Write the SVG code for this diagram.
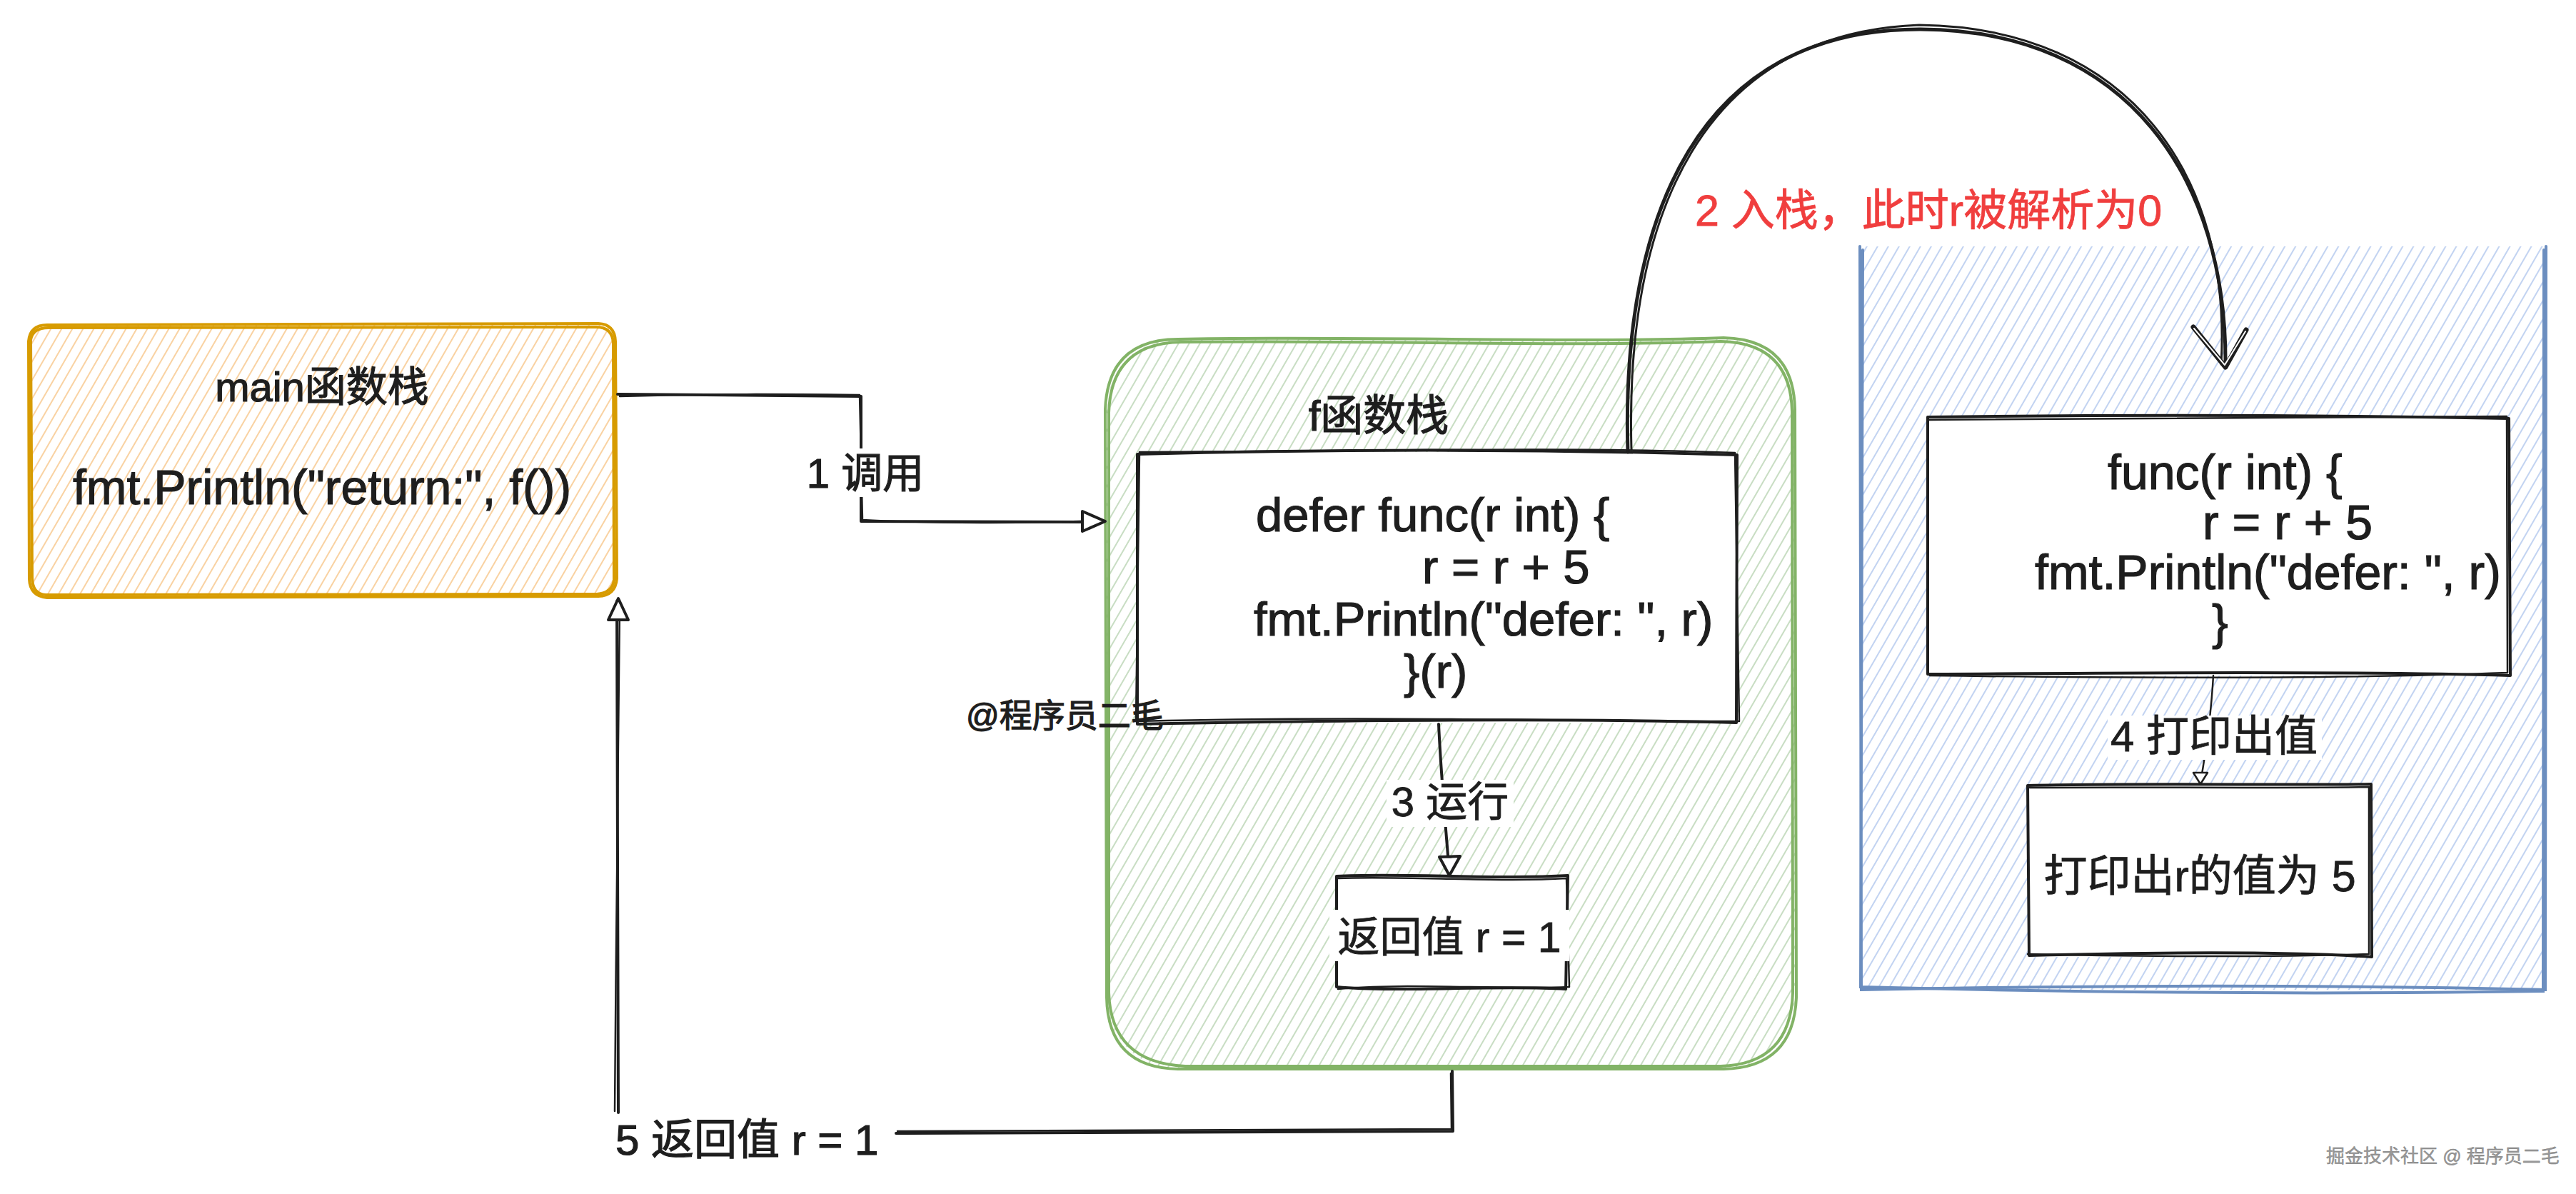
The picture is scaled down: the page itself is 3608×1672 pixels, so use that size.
<svg xmlns="http://www.w3.org/2000/svg" width="3608" height="1672" viewBox="0 0 3608 1672">
<style>
.hand{font-family:"Liberation Sans","Noto Sans CJK SC",sans-serif;fill:#1e1e1e;stroke:#1e1e1e;stroke-width:1.2}
.sans{font-family:"Liberation Sans","Noto Sans CJK SC",sans-serif;fill:#1e1e1e;stroke:#1e1e1e;stroke-width:0.8}
.ink{fill:none;stroke:#1e1e1e;stroke-width:4;stroke-linecap:round;stroke-linejoin:round}
.ink2{fill:none;stroke:#1e1e1e;stroke-width:2.5;stroke-linecap:round;stroke-linejoin:round}
.head{fill:#fff;stroke:#1e1e1e;stroke-width:4;stroke-linejoin:round}
.orange{fill:none;stroke:#d79b00;stroke-width:4;stroke-linecap:round}
.green{fill:none;stroke:#82b366;stroke-width:4;stroke-linecap:round}
.blue{fill:none;stroke:#6c8ebf;stroke-width:4;stroke-linecap:round}
.bg{fill:#fff}
</style>
<defs>
<pattern id="hatchO" patternUnits="userSpaceOnUse" width="13" height="13" patternTransform="rotate(30)"><line x1="6" y1="0" x2="6" y2="13" stroke="#f9d2a2" stroke-width="2"/></pattern>
<pattern id="hatchG" patternUnits="userSpaceOnUse" width="13" height="13" patternTransform="rotate(30)"><line x1="6" y1="0" x2="6" y2="13" stroke="#c8ddc3" stroke-width="2"/></pattern>
<pattern id="hatchB" patternUnits="userSpaceOnUse" width="13" height="13" patternTransform="rotate(30)"><line x1="6" y1="0" x2="6" y2="13" stroke="#c2d3f1" stroke-width="2"/></pattern>
</defs>
<rect width="3608" height="1672" fill="#fff"/>

<g id="main-stack">
<rect x="41" y="454" width="822" height="382" rx="25" fill="url(#hatchO)"/>
<path class="orange" d="M66 455 L838 453 Q861 454 862 478 L864 810 Q862 834 838 835 L66 837 Q42 835 41 811 L40 478 Q42 455 66 455 Z"/>
<path class="orange" d="M70 459 L835 458 Q858 458 859 481 L860 812 Q858 830 836 832 L64 833 Q45 832 45 808 L43 476 Q46 458 70 459 Z"/>
<text class="hand" x="451" y="562" font-size="58" text-anchor="middle">main函数栈</text>
<text class="hand" x="451" y="706" font-size="68" text-anchor="middle">fmt.Println("return:", f())</text>
</g>

<g id="f-stack">
<rect x="1550" y="474" width="964" height="1023" rx="100" fill="url(#hatchG)"/>
<path class="green" d="M1650 475 C1900 470 2200 481 2414 473 Q2512 475 2514 573 L2516 1397 Q2512 1495 2414 1497 L1650 1497 Q1552 1495 1550 1397 L1548 573 Q1552 475 1650 475 Z"/>
<path class="green" d="M1655 479 C1900 476 2200 486 2410 478 Q2508 480 2510 576 L2511 1390 Q2508 1490 2410 1493 L1660 1493 Q1556 1488 1553 1390 L1553 578 Q1556 480 1655 479 Z"/>
<text class="hand" x="1931" y="603" font-size="60" text-anchor="middle">f函数栈</text>
</g>

<g id="defer-call">
<rect x="1593" y="633" width="840" height="379" fill="#fff"/>
<path class="ink" d="M1593 636 C1900 628 2200 630 2433 637 L2432 1012 C2200 1006 1900 1008 1593 1014 Z"/>
<path class="ink2" d="M1596 633 C1900 632 2200 625 2430 634 L2436 1010 C2200 1010 1900 1002 1591 1010 L1596 633"/>
<text class="hand" x="1759" y="744" font-size="67">defer func(r int) {</text>
<text class="hand" x="1992" y="817" font-size="67">r = r + 5</text>
<text class="hand" x="1756" y="890" font-size="67">fmt.Println("defer: ", r)</text>
<text class="hand" x="1966" y="963" font-size="67">}(r)</text>
<text class="hand" x="1353" y="1018" font-size="46">@程序员二毛</text>
</g>

<g id="return-value">
<rect x="1872" y="1226" width="324" height="159" fill="#fff"/>
<path class="ink" d="M1872 1227 C1960 1222 2100 1232 2196 1226 L2193 1385 C2100 1379 1960 1390 1872 1382 Z"/>
<path class="ink2" d="M1874 1230 C1960 1226 2100 1236 2194 1230 L2198 1382 C2100 1386 1960 1376 1874 1385"/>
<rect class="bg" x="1862" y="1274" width="336" height="72"/>
<text class="sans" x="2030" y="1333" font-size="59" text-anchor="middle">返回值 r = 1</text>
</g>

<g id="defer-stack">
<rect x="2605" y="345" width="960" height="1041" fill="url(#hatchB)"/>
<path class="blue" d="M2605 345 L2607 1386 C3000 1378 3300 1380 3565 1386 L3566 345"/>
<path class="blue" d="M2609 350 L2606 1382 C3000 1392 3300 1392 3562 1388 L3563 350"/>
</g>

<g id="defer-func">
<rect x="2700" y="584" width="814" height="362" fill="#fff"/>
<path class="ink" d="M2700 584 C3000 580 3300 582 3514 586 L3516 946 C3300 940 3000 942 2700 944 Z"/>
<path class="ink2" d="M2702 588 C3000 584 3300 586 3511 583 L3512 942 C3300 950 3000 950 2703 946"/>
<text class="hand" x="2952" y="685" font-size="68">func(r int) {</text>
<text class="hand" x="3085" y="755" font-size="68">r = r + 5</text>
<text class="hand" x="2850" y="825" font-size="68">fmt.Println("defer: ", r)</text>
<text class="hand" x="3098" y="895" font-size="68">}</text>
</g>

<g id="print-result">
<rect x="2840" y="1100" width="481" height="240" fill="#fff"/>
<path class="ink" d="M2840 1100 C3000 1096 3200 1100 3321 1098 L3322 1340 C3200 1332 3000 1334 2842 1338 Z"/>
<path class="ink2" d="M2843 1103 C3000 1102 3200 1104 3318 1102 L3318 1336 C3200 1340 3000 1340 2840 1336"/>
<text class="sans" x="3081" y="1248" font-size="61" text-anchor="middle">打印出r的值为 5</text>
</g>

<g id="connectors">
<path class="ink" d="M865 552 L1206 555 L1206 730 L1540 731"/>
<path class="ink2" d="M868 555 C1000 551 1100 552 1204 553 L1208 728 C1300 733 1450 733 1538 729"/>
<path class="head" d="M1516 716 L1548 730 L1516 744 Z"/>
<rect class="bg" x="1128" y="628" width="170" height="68"/>
<text class="hand" x="1212" y="683" font-size="58" text-anchor="middle">1 调用</text>

<path fill="none" stroke="#1e1e1e" stroke-width="5" stroke-linecap="round" d="M2280 633 C2270 300 2380 40 2690 41 C2980 42 3120 250 3117 514"/>
<path fill="none" stroke="#1e1e1e" stroke-width="3" stroke-linecap="round" d="M2285 630 C2276 300 2384 47 2688 35 C2986 38 3126 250 3111 510"/>
<path fill="none" stroke="#1e1e1e" stroke-width="7" stroke-linecap="round" stroke-linejoin="round" d="M3072 458 L3117 514 L3146 462"/>
<path fill="none" stroke="#fff" stroke-width="2" stroke-linecap="round" stroke-linejoin="round" d="M3073 460 L3116 511 L3145 464"/>
<text x="2374" y="316" font-size="61" font-family="Liberation Sans, Noto Sans CJK SC, sans-serif" fill="#f03e3e" stroke="#f03e3e" stroke-width="0.8">2 入栈，此时r被解析为0</text>

<path class="ink" d="M2015 1014 C2018 1080 2024 1150 2030 1222"/>
<rect class="bg" x="1942" y="1092" width="178" height="66"/>
<text class="sans" x="2031" y="1143" font-size="58" text-anchor="middle">3 运行</text>
<path class="head" d="M2016 1200 L2030 1226 L2045 1199 Z"/>

<path class="ink2" d="M3100 946 C3097 1000 3090 1050 3082 1096"/>
<rect class="bg" x="2952" y="1002" width="300" height="62"/>
<text class="sans" x="3101" y="1052" font-size="60" text-anchor="middle">4 打印出值</text>
<path fill="#fff" stroke="#1e1e1e" stroke-width="2.5" stroke-linejoin="round" d="M3072 1082 L3082 1098 L3092 1082 Z"/>

<path class="ink" d="M2034 1500 L2035 1584 L1255 1587"/>
<path class="ink2" d="M2032 1503 L2033 1581 C1700 1584 1400 1583 1257 1584"/>
<text class="hand" x="862" y="1617" font-size="60">5 返回值 r = 1</text>
<path class="ink" d="M866 1558 L864 842"/>
<path class="ink2" d="M861 1556 C863 1300 866 1000 868 845"/>
<path class="head" d="M852 868 L866 838 L880 868 Z"/>
</g>

<text x="3258" y="1628" font-size="26" font-family="Liberation Sans, Noto Sans CJK SC, sans-serif" fill="#9a9a9a" stroke="#777" stroke-width="0.4">掘金技术社区 @ 程序员二毛</text>
</svg>
